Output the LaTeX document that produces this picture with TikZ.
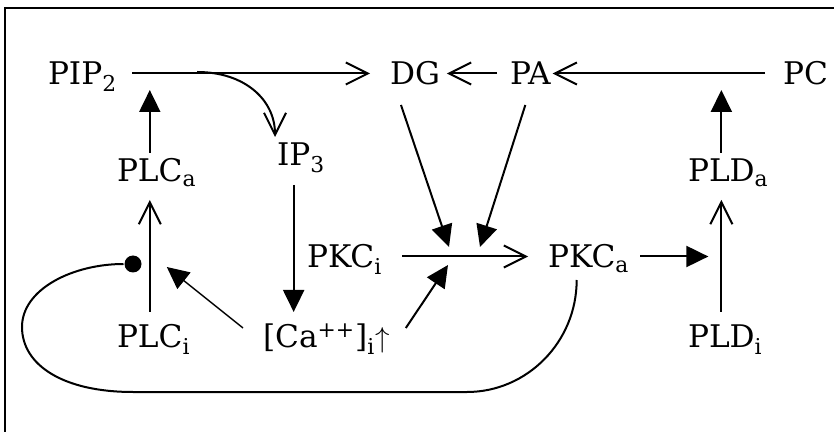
\documentclass[tikz,border=0pt]{standalone}
\usepackage{fontspec}
\setmainfont{DejaVu Serif}
\usetikzlibrary{arrows.meta,calc}

\begin{document}
\begin{tikzpicture}[x=0.5pt, y=-0.5pt, line width=1pt,
  lbl/.style={anchor=base west, inner sep=0pt, outer sep=0pt, text height=11.5pt, text depth=0pt, font=\fontsize{15.6pt}{19pt}\selectfont},
  dot/.style={circle, fill, inner sep=0pt, minimum size=8.5pt},
  openhead/.style={-{Straight Barb[length=11pt,width=11pt]}},
  fullhead/.style={-{Triangle[length=11pt,width=10.5pt]}},
  thinline/.style={line width=0.7pt}]
\useasboundingbox (0,0) rectangle (834,432);
\draw (834,8) -- (5,8) -- (5,432);

\node[lbl] (pip) at (48,85) {PIP\rlap{\textsubscript{2}}};
\node[lbl] (dg) at (390,85) {DG};
\node[lbl] (pa) at (510,85) {PA};
\node[lbl] (pc) at (783,85) {PC};
\node[lbl] (plca) at (117,182) {PLC\rlap{\textsubscript{a}}};
\node[lbl] (ip3) at (277,166) {IP\rlap{\textsubscript{3}}};
\node[lbl] (plda) at (688,182) {PLD\rlap{\textsubscript{a}}};
\node[lbl] (pkci) at (307,268) {PKC\rlap{\textsubscript{i}}};
\node[lbl] (pkca) at (548,268) {PKC\rlap{\textsubscript{a}}};
\node[lbl] (plci) at (117,348) {PLC\rlap{\textsubscript{i}}};
\node[lbl] (ca) at (263,348) {[Ca\textsuperscript{++}]\textsubscript{i}$\uparrow$};
\node[lbl] (pldi) at (688,348) {PLD\rlap{\textsubscript{i}}};
\node[dot] (stop) at (133,264) {};
\coordinate (fork) at (197,72);
\coordinate (jn) at (465,257);

\draw[openhead, shorten <=15pt, shorten >=10pt] (pip.east) -- (dg.west);
\draw[openhead] (fork) .. controls +(48,0) and +(0,-37) .. ([shift={(-1pt,3pt)}]ip3.north west);
\draw[openhead, shorten <=6.5pt, shorten >=3.5pt] (pa.west) -- (dg.east);
\draw[openhead, shorten <=9pt, shorten >=1pt] (pc.west) -- (pa.east);
\draw[fullhead, shorten <=3pt, shorten >=2.5pt] (plca) -- (plca |- pip.south);
\draw[openhead, shorten <=6.5pt, shorten >=9pt] (plci) -- (plca);
\draw[fullhead, shorten <=9.5pt, shorten >=6.5pt] (ip3) -- (ip3 |- ca.north);
\draw[fullhead, thinline] ([shift={(-10pt,-1.5pt)}]ca.north west) -- ([shift={(8.5pt,29pt)}]plci.north);
\draw[fullhead] ([shift={(8pt,-1.5pt)}]ca.north east) -- ([shift={(-8.5pt,-4pt)}]jn);
\draw[fullhead] ([shift={(-7pt,-10pt)}]dg.south) -- ([shift={(-8pt,5pt)}]jn);
\draw[fullhead] ([shift={(-2.5pt,-10pt)}]pa.south) -- ([shift={(7.5pt,5pt)}]jn);
\draw[openhead, shorten <=14pt, shorten >=10pt] (pkci.east) -- (pkca.west);
\draw[fullhead, shorten <=12.5pt, shorten >=6.5pt] (pkca.east) -- (pkca.east -| pldi);
\draw[openhead, shorten <=6.5pt, shorten >=9pt] (pldi) -- (plda);
\draw[fullhead, shorten <=3pt, shorten >=2.5pt] (plda) -- (plda |- pc.south);
\draw ([shift={(-2.5pt,-6pt)}]pkca.south) .. controls +(0,62) and +(60,0) .. (467,392) -- (133,392)
  .. controls +(-70,0) and +(0,38) .. (22,327) .. controls +(0,-38) and +(-60,0) .. (stop);
\end{tikzpicture}
\end{document}
